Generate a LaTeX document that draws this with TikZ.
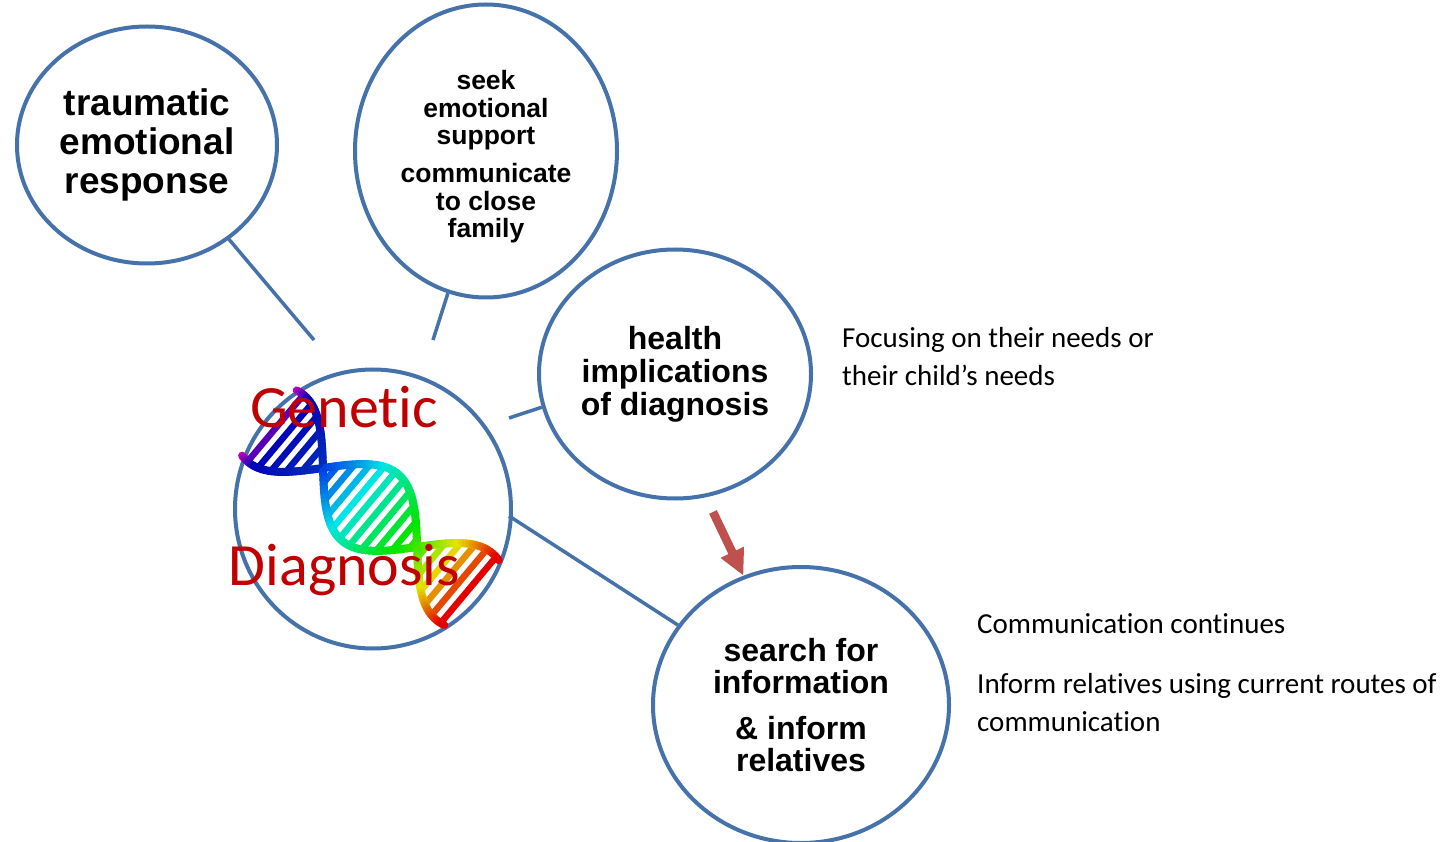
\documentclass[tikz,border=0pt]{standalone}
\usepackage{fontspec}
\setmainfont{Liberation Sans}
\newfontfamily\calibrifont{Carlito}[Ligatures=NoCommon]
\usetikzlibrary{shapes.geometric,arrows.meta}
\definecolor{ringblue}{RGB}{69,114,170}
\definecolor{arrowred}{RGB}{192,80,77}
\definecolor{titlered}{RGB}{192,0,0}
\tikzset{
  bubble/.style={ellipse, draw=ringblue, fill=white, line width=4pt, inner sep=0pt, align=center},
  link/.style={draw=ringblue, line width=3.5pt},
  note/.style={font=\calibrifont\fontsize{29}{38}\selectfont, anchor=base west, align=left, inner sep=0pt},
  redtitle/.style={font=\calibrifont\fontsize{60}{60}\selectfont, text=titlered, anchor=base, inner sep=0pt},
  % points on the two strands of the helix (axis parameter t, strand sign s)
  declare function={
    hx(\t,\s)=323+0.765*\t-\s*28*sin(\t/123*180);
    hy(\t,\s)=468+0.642*\t+\s*33.4*sin(\t/123*180);
    dnahue(\t)=\t<-55 ? 300-(\t+70)*4 : (\t<0 ? 240-(\t+55)/55*15 : (\t<123 ? 225-\t/123*120 : max(0,105-(\t-123)/67*105)));
    dnabri(\t)=\t<0 ? 0.72 : 0.9;
  }
}
\begin{document}
\begin{tikzpicture}[x=1pt,y=-1pt]
\useasboundingbox[fill=white] (0,0) rectangle (1452,842);

% bubbles
\node[bubble, minimum width=260pt, minimum height=237pt,
      font=\bfseries\fontsize{37}{39}\selectfont] (trauma) at (147,145)
  {traumatic\\emotional\\response};
\node[bubble, minimum width=262pt, minimum height=293pt,
      font=\bfseries\fontsize{26.5}{27.5}\selectfont] (seek) at (486,151)
  {\rule{0pt}{31pt}seek\\emotional\\support\\[10.5pt]communicate\\to close\\family};
\node[bubble, minimum width=272pt, minimum height=249pt,
      font=\bfseries\fontsize{32}{33}\selectfont] (health) at (675,374)
  {health\\implications\\of diagnosis};
\node[bubble, minimum width=296pt, minimum height=276pt,
      font=\bfseries\fontsize{32}{32.5}\selectfont] (search) at (801,705)
  {search for\\information\\[13pt]\& inform\\relatives};
\node[bubble, minimum width=276pt, minimum height=279pt] (gen) at (373,509) {};

% double helix: rungs first, then the two coloured strands
\begin{scope}
  \foreach \t in {-62,-50,...,190}{
    \pgfmathsetmacro\hue{dnahue(\t)}
    \pgfmathsetmacro\bri{dnabri(\t)}
    \definecolor{dnac}{Hsb}{\hue,1,\bri}
    \draw[dnac, line width=6.5pt] ({hx(\t,1)},{hy(\t,1)}) -- ({hx(\t,-1)},{hy(\t,-1)});
  }
  \foreach \t in {-70,-67,...,192}{
    \pgfmathsetmacro\hue{dnahue(\t)}
    \pgfmathsetmacro\bri{dnabri(\t)}
    \definecolor{dnac}{Hsb}{\hue,1,\bri}
    \draw[dnac, line width=8pt, line cap=round] ({hx(\t,1)},{hy(\t,1)}) -- ({hx(\t+3,1)},{hy(\t+3,1)});
    \draw[dnac, line width=8pt, line cap=round] ({hx(\t,-1)},{hy(\t,-1)}) -- ({hx(\t+3,-1)},{hy(\t+3,-1)});
  }
\end{scope}

\node[redtitle] (gen-top) at (344,428) {Genetic};
\node[redtitle] (gen-bottom) at (344.5,585) {Diagnosis};

% connectors towards the diagnosis bubble
\coordinate (e1) at (314,340);
\coordinate (e2) at (433,340);
\coordinate (e3) at (509,418);
\coordinate (e4) at (509,516);
\draw[link] (trauma.-49) -- (e1);
\draw[link] (seek.-105) -- (e2);
\draw[link] (health.194) -- (e3);
\draw[link] (search.147) -- (e4);

% arrow from health implications to search
\coordinate (a1) at (713,512);
\draw[arrowred, line width=8.5pt, -{Triangle[length=26pt,width=24pt]}] (a1) -- (search.114);

% side notes
\node[note] (n1) at (842,385) {Focusing on their needs or\\their child’s needs};
\node[note] (n2) at (977,633) {Communication continues};
\node[note] (n3) at (977,731) {Inform relatives using current routes of\\communication};
\end{tikzpicture}
\end{document}
